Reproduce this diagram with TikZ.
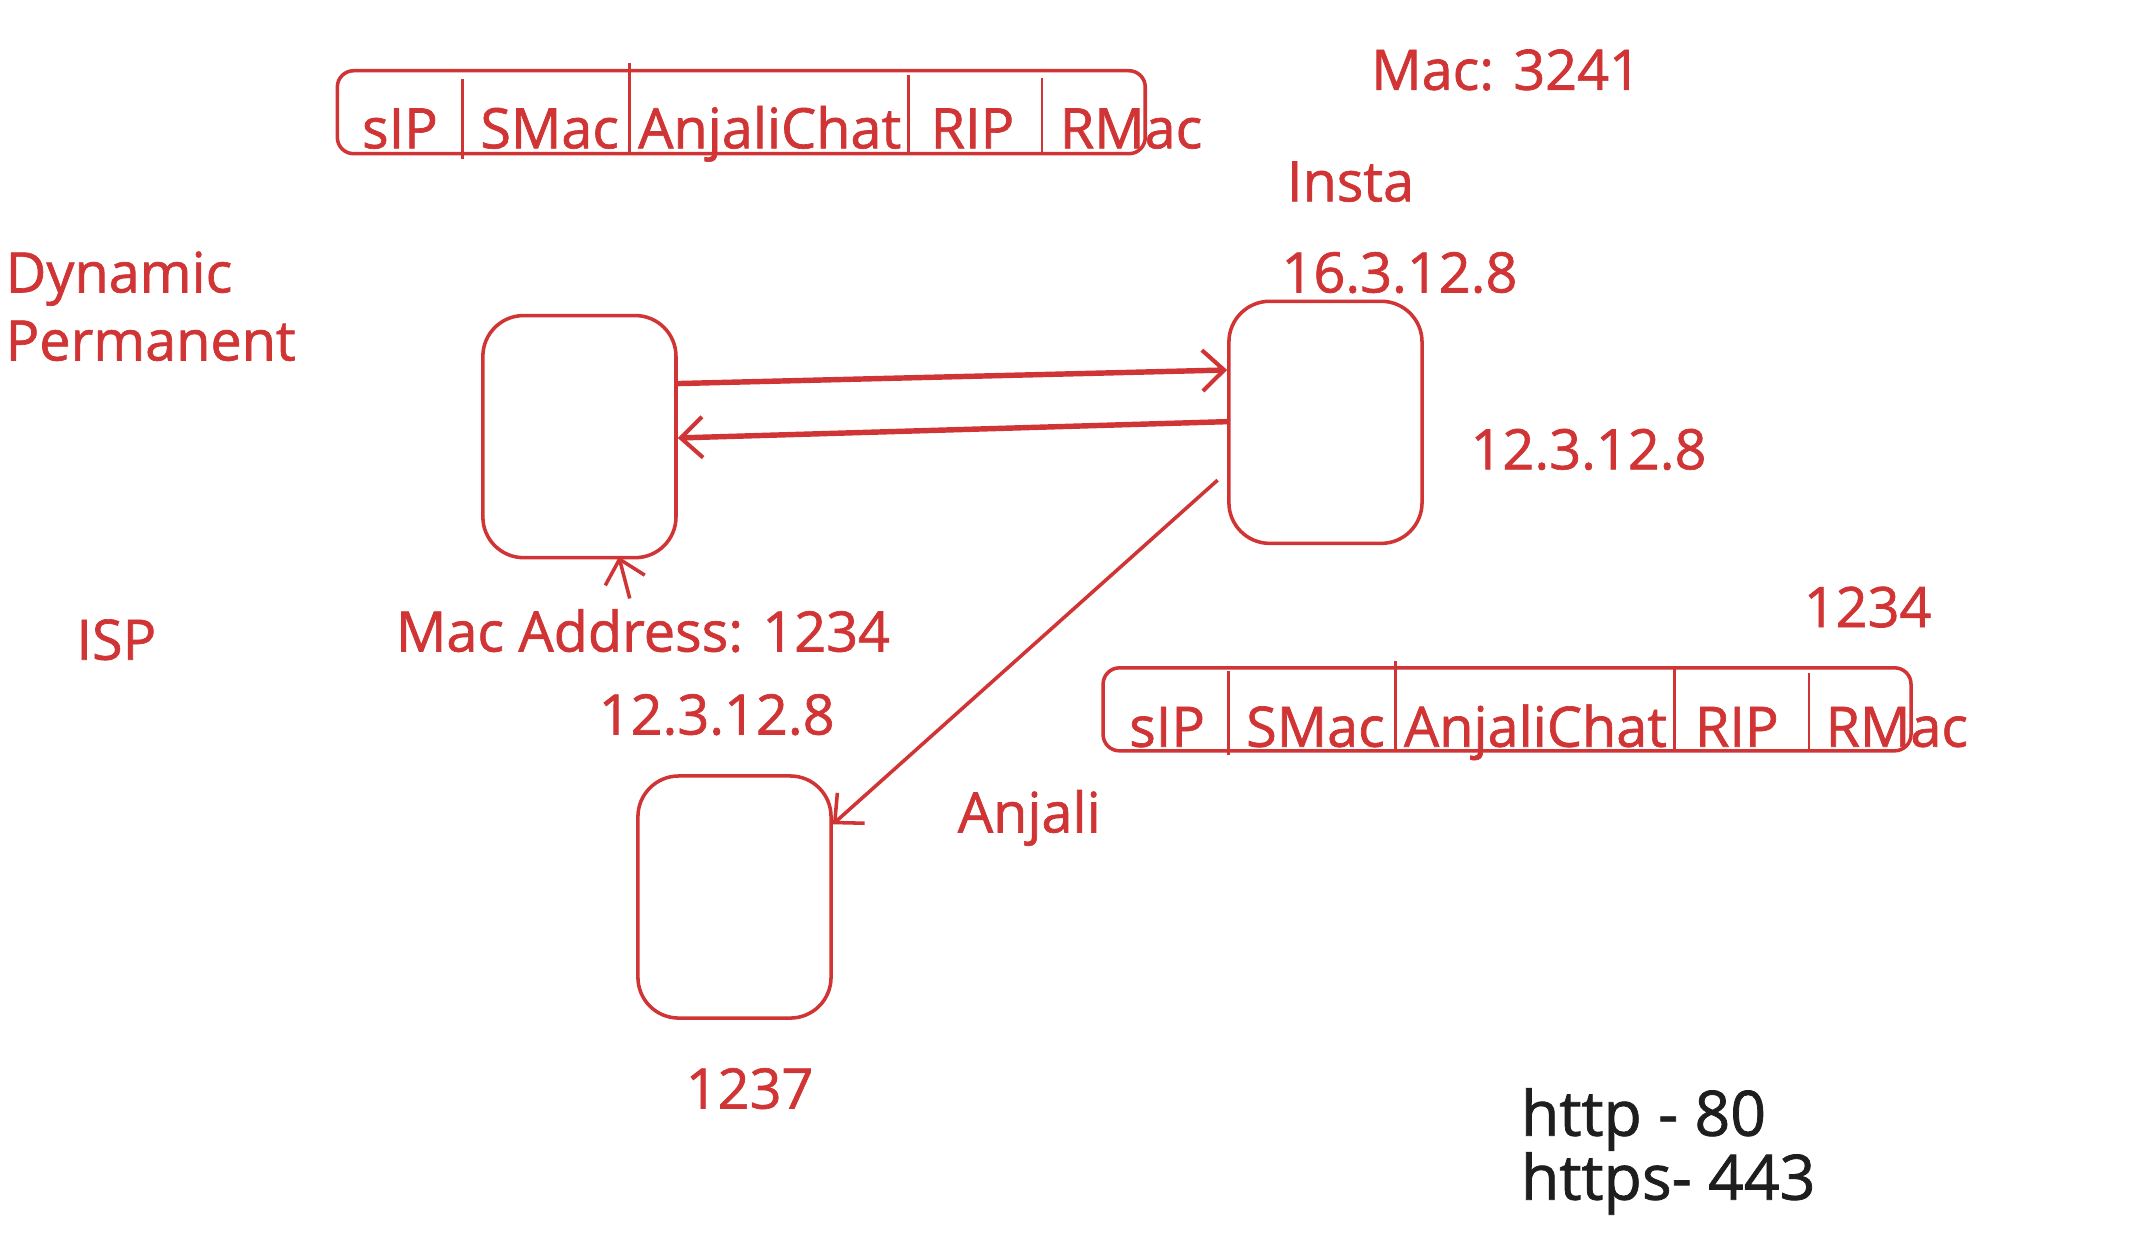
\documentclass[tikz,border=0pt]{standalone}
\usepackage{fontspec}
\setmainfont{Open Sans}[FakeBold=1.2]
\usetikzlibrary{arrows.meta,calc}
\definecolor{xred}{RGB}{208,52,52}
\definecolor{xblack}{RGB}{30,30,30}
\tikzset{
  lbl/.style={text=xred,font=\fontsize{41}{43}\selectfont,inner sep=0pt,anchor=base west},
  blk/.style={lbl,text=xblack,font=\fontsize{46}{48}\selectfont},
  devbox/.style={draw=xred,line width=2.6pt,rounded corners=30pt,minimum width=142pt,minimum height=178pt,inner sep=0pt},
  pktbox/.style={draw=xred,line width=2.6pt,rounded corners=12pt,minimum width=594pt,minimum height=61pt,inner sep=0pt},
  divider/.style={draw=xred,line width=2pt},
  conn/.style={draw=xred,line width=4pt,-{Straight Barb[length=16pt,width=30pt,line width=3pt]}},
  thin/.style={draw=xred,line width=2.6pt,-{Straight Barb[length=16pt,width=30pt,line width=2.6pt]}},
}
\begin{document}
\begin{tikzpicture}[x=1pt,y=-1pt]
\useasboundingbox (0,0) rectangle (1566,913);
% top packet
\node[pktbox] (P1) at (545,82.5) {};
\draw[divider] (340,58) -- (340,117);
\draw[divider] (463,46) -- (463,113);
\draw[divider] (668,55) -- (668,113);
\draw[divider] (766,57) -- (766,113);
\node[lbl] (p1a) at (266,109) {sIP};
\node[lbl] (p1b) at (353,109) {SMac};
\node[lbl] (p1c) at (469,109) {AnjaliChat};
\node[lbl] (p1d) at (684,109) {RIP};
\node[lbl] (p1e) at (779,109) {RMac};
% bottom packet
\node[pktbox] (P2) at (1108,521.5) {};
\draw[divider] (903,493) -- (903,555);
\draw[divider] (1026,486) -- (1026,552);
\draw[divider] (1231,490) -- (1231,552);
\draw[divider] (1330,495) -- (1330,552);
\node[lbl] (p2a) at (830,549) {sIP};
\node[lbl] (p2b) at (916,549) {SMac};
\node[lbl] (p2c) at (1032,549) {AnjaliChat};
\node[lbl] (p2d) at (1246,549) {RIP};
\node[lbl] (p2e) at (1342,549) {RMac};
% labels
\node[lbl] (mac) at (1008,66) {Mac: 3241};
\node[lbl] (insta) at (946,148) {Insta};
\node[lbl] (ip1) at (942,215) {16.3.12.8};
\node[lbl] (dyn) at (4,215) {Dynamic};
\node[lbl] (perm) at (4,265) {Permanent};
\node[lbl] (ip2) at (1081,345) {12.3.12.8};
\node[lbl] (isp) at (56,485) {ISP};
\node[lbl] (macaddr) at (291,479) {Mac Address: 1234};
\node[lbl] (ip3) at (440,540) {12.3.12.8};
\node[lbl] (n1234) at (1326,461) {1234};
\node[lbl] (anjali) at (704,612) {Anjali};
\node[lbl] (n1237) at (504,815) {1237};
\node[blk] (http) at (1118,835) {http - 80};
\node[blk] (https) at (1118,882) {https- 443};
% devices
\node[devbox] (L) at (426,321) {};
\node[devbox] (R) at (974.5,310.5) {};
\node[devbox] (B) at (540,659.5) {};
% connectors
\draw[conn] ([yshift=39pt]L.east) -- ([yshift=38.5pt]R.west);
\draw[conn] ([yshift=0.5pt]R.west) -- ([yshift=-1pt]L.east);
\draw[thin] ([xshift=-7pt,yshift=-42.5pt]R.west) -- ([yshift=53.5pt]B.east);
\coordinate (ma) at (463,440);
\draw[thin] (ma) -- ([xshift=29pt,yshift=2pt]L.south);
\end{tikzpicture}
\end{document}
